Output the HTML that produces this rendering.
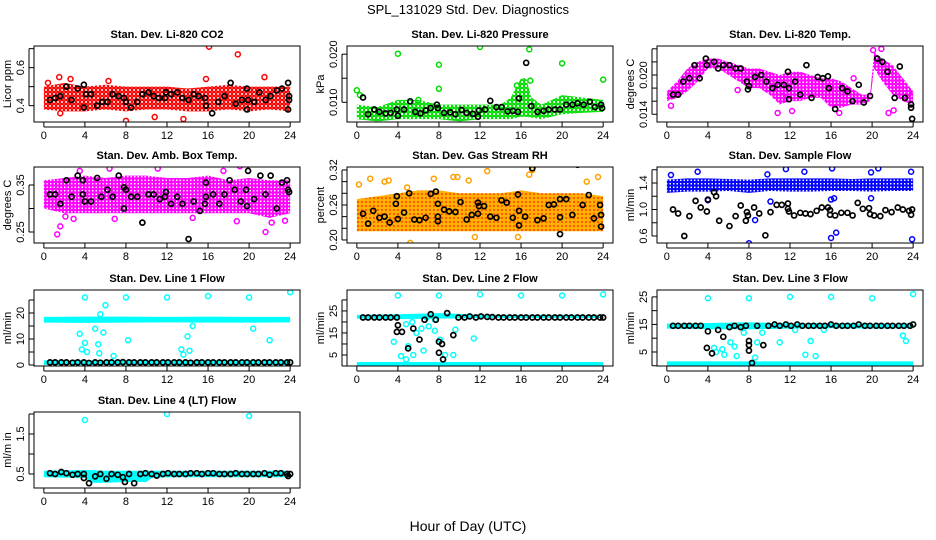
<!DOCTYPE html>
<html><head><meta charset="utf-8"><style>
body{margin:0;background:#fff}
svg{display:block;font-family:"Liberation Sans",Arial,sans-serif}
</style></head><body>
<svg id="chart" width="936" height="540" viewBox="0 0 936 540">
<defs>
<pattern id="p-red" width="4" height="4" patternUnits="userSpaceOnUse"><circle cx="2" cy="2" r="1.7" fill="none" stroke="#ff0000" stroke-width="1.4"/></pattern>
<pattern id="p-green" width="4" height="4" patternUnits="userSpaceOnUse"><circle cx="2" cy="2" r="1.8" fill="none" stroke="#00dd00" stroke-width="1.4"/></pattern>
<pattern id="p-mag" width="3.5" height="3.5" patternUnits="userSpaceOnUse"><circle cx="1.75" cy="1.75" r="1.6" fill="none" stroke="#ff00ff" stroke-width="1.5"/></pattern>
<pattern id="p-orange" width="4" height="4" patternUnits="userSpaceOnUse"><rect width="4" height="4" fill="#ffb000"/><circle cx="2" cy="2" r="0.9" fill="#ff2000"/></pattern>
<pattern id="p-blue" width="3.5" height="3.5" patternUnits="userSpaceOnUse"><circle cx="1.75" cy="1.75" r="1.6" fill="none" stroke="#0000ff" stroke-width="1.5"/></pattern>
<pattern id="p-cyan" width="4" height="4" patternUnits="userSpaceOnUse"><rect width="4" height="4" fill="#00ffff"/></pattern>
</defs>
<text x="468" y="14" text-anchor="middle" font-size="13">SPL_131029  Std. Dev. Diagnostics</text>
<text x="468" y="531" text-anchor="middle" font-size="14">Hour of Day (UTC)</text>
</svg>
<script>
// ---------- Panel data ----------
const xTicks = [0,4,8,12,16,20,24];

// P1 CO2
const co2BandHours = [0,2,4,6,8,10,12,14,16,18,20,22,24];
const co2BandLo = [0.38,0.37,0.37,0.38,0.37,0.38,0.38,0.37,0.37,0.38,0.37,0.38,0.37];
const co2BandHi = [0.50,0.52,0.50,0.51,0.50,0.50,0.50,0.49,0.50,0.51,0.50,0.50,0.50];
const co2Outliers = [[16.1,0.71],[18.9,0.67],[8,0.32],[1.5,0.55],[15.8,0.54],[21.5,0.55],[13.6,0.33],[10.8,0.34],[0.4,0.52],[2.6,0.54],[6.3,0.53],[1.6,0.36]];
const co2Black = [[0.6,0.43],[1.1,0.44],[1.6,0.45],[2.2,0.5],[2.7,0.43],[3.3,0.49],[3.9,0.51],[3.9,0.39],[4.1,0.46],[4.6,0.46],[5.2,0.4],[5.7,0.42],[6.2,0.42],[6.7,0.46],[7.3,0.45],[7.8,0.44],[8,0.42],[8.5,0.39],[9.1,0.42],[9.6,0.46],[10.2,0.47],[10.7,0.45],[11.2,0.44],[11.8,0.44],[11.9,0.47],[12.4,0.46],[13,0.47],[13.5,0.44],[14.1,0.43],[14.6,0.46],[15.1,0.45],[15.7,0.44],[15.8,0.4],[16.4,0.36],[17,0.42],[17.6,0.45],[18.2,0.52],[18.7,0.41],[19.3,0.43],[19.8,0.38],[19.8,0.49],[19.9,0.43],[20.5,0.42],[21,0.47],[21.6,0.43],[22.1,0.45],[22.7,0.48],[23.2,0.49],[23.8,0.38],[23.8,0.52],[23.9,0.43],[23.9,0.45]];

// P2 Pressure
const prBandHours = [0,2,4,6,8,10,12,14,15,16,16.5,17,18,20,22,24];
const prBandLo = [0.0065,0.006,0.0065,0.0065,0.0065,0.006,0.0065,0.0065,0.0065,0.007,0.007,0.0068,0.0065,0.0075,0.0078,0.008];
const prBandHi = [0.0095,0.009,0.0105,0.0105,0.0095,0.0095,0.0095,0.0095,0.011,0.015,0.015,0.011,0.0095,0.0115,0.011,0.0105];
const prOutliers = [[0,0.0125],[0.3,0.0115],[4,0.0201],[8,0.0178],[8,0.0128],[12,0.0215],[16.8,0.021],[20,0.0181],[24,0.0147],[16.9,0.0145],[6,0.0105],[15.6,0.0135]];
const prBlack = [[0.6,0.011],[1.1,0.0075],[1.7,0.0085],[2.2,0.008],[2.8,0.0077],[3.3,0.0078],[3.9,0.0085],[4,0.0072],[4.6,0.0085],[5.2,0.0102],[5.7,0.008],[6.2,0.0077],[6.7,0.0083],[7.2,0.0088],[7.8,0.0095],[7.9,0.0088],[8.5,0.0078],[9.1,0.0079],[9.6,0.0075],[10.2,0.0084],[10.7,0.0078],[11.3,0.0076],[11.8,0.007],[11.9,0.0083],[12.5,0.0085],[13,0.0103],[13.6,0.009],[14.1,0.009],[14.7,0.0081],[15.2,0.0082],[15.7,0.008],[15.8,0.0108],[16.5,0.0182],[17,0.0092],[17.6,0.008],[18.2,0.0082],[18.7,0.0085],[19.3,0.0085],[19.8,0.0085],[20.4,0.0095],[21,0.0095],[21.5,0.0098],[22.1,0.0095],[22.7,0.0101],[23.2,0.009],[23.8,0.0095],[23.9,0.0088]];

// P3 Li-820 Temp
const ltBandHours = [0,1,2,3,4,5,6,7,8,9,10,11,12,13,14,15,16,17,18,19,19.8,20.2,21,22,23,24];
const ltBandLo = [0.016,0.0165,0.0175,0.019,0.021,0.021,0.02,0.019,0.018,0.018,0.017,0.0155,0.016,0.016,0.0165,0.0165,0.015,0.015,0.0155,0.0155,0.016,0.021,0.019,0.017,0.016,0.0155];
const ltBandHi = [0.0175,0.019,0.021,0.022,0.0225,0.0225,0.022,0.0215,0.021,0.021,0.0205,0.02,0.0205,0.0205,0.02,0.0195,0.0195,0.019,0.018,0.017,0.017,0.0235,0.0225,0.0215,0.0195,0.0175];
const ltOutliers = [[0.4,0.0153],[10.8,0.0142],[12.2,0.0145],[16.8,0.0142],[20.1,0.0238],[20.9,0.024],[21.6,0.0142],[22.1,0.0146],[23.6,0.0172],[11.3,0.0168],[18.2,0.0195],[6.9,0.0177]];
const ltBlack = [[0.6,0.017],[1.1,0.017],[1.6,0.019],[2.2,0.0195],[2.7,0.0215],[3.2,0.0195],[3.8,0.0225],[3.9,0.0215],[4.6,0.022],[5,0.021],[5.5,0.0215],[6.1,0.0215],[6.7,0.021],[7.2,0.021],[7.8,0.019],[7.9,0.0178],[8,0.0183],[8.6,0.0197],[9.2,0.02],[9.7,0.019],[10.3,0.018],[10.8,0.0185],[11.4,0.0185],[11.8,0.0205],[11.9,0.0163],[11.9,0.018],[12.5,0.019],[13,0.017],[13.6,0.0215],[14.1,0.0165],[14.7,0.0197],[15.2,0.0195],[15.7,0.0198],[15.8,0.018],[16.4,0.0148],[17.1,0.018],[17.6,0.0175],[18.1,0.016],[18.7,0.0185],[19.2,0.0158],[19.8,0.0168],[20.5,0.0225],[21,0.022],[21.5,0.0205],[22.2,0.0165],[22.7,0.0213],[23.2,0.0165],[23.8,0.0155],[23.9,0.0133],[23.8,0.015]];

// P4 Amb Box Temp
const abBandHours = [0,2,4,6,8,10,12,14,16,18,20,22,24];
const abBandLo = [0.30,0.29,0.29,0.29,0.29,0.29,0.29,0.29,0.29,0.29,0.29,0.28,0.29];
const abBandHi = [0.36,0.365,0.37,0.365,0.37,0.37,0.365,0.365,0.37,0.36,0.365,0.36,0.36];
const abOutliers = [[1.3,0.245],[1.6,0.262],[2.1,0.283],[21.6,0.25],[22.2,0.27],[19.1,0.39],[11.1,0.385],[17.5,0.38],[6.4,0.385],[3.5,0.38],[2.9,0.278],[6.9,0.278],[14.5,0.28],[18.8,0.273],[23.5,0.274]];
const abBlack = [[0.6,0.33],[1.1,0.33],[1.6,0.31],[2.2,0.36],[2.7,0.325],[3.3,0.37],[3.8,0.36],[3.8,0.33],[4,0.315],[4.6,0.315],[5.2,0.365],[5.6,0.325],[6.2,0.34],[6.7,0.325],[7.3,0.37],[7.8,0.345],[7.8,0.3],[8,0.34],[8.5,0.325],[9.1,0.325],[9.6,0.27],[10.2,0.33],[10.7,0.33],[11.3,0.32],[11.8,0.325],[11.9,0.335],[12.4,0.31],[13,0.325],[13.5,0.31],[14.1,0.235],[14.6,0.315],[15.2,0.295],[15.7,0.31],[15.8,0.325],[15.8,0.355],[16.5,0.33],[17.1,0.31],[17.6,0.33],[18.1,0.36],[18.6,0.34],[19.2,0.315],[19.7,0.34],[19.8,0.305],[19.9,0.38],[20.5,0.32],[21.1,0.37],[21.6,0.33],[22.1,0.37],[22.7,0.3],[23.2,0.355],[23.7,0.36],[23.8,0.34],[23.9,0.335]];

// P5 Gas Stream RH
const rhBandHours = [0,2,4,6,8,10,12,14,16,18,20,22,24];
const rhBandLo = [0.215,0.215,0.215,0.215,0.215,0.215,0.215,0.215,0.215,0.215,0.215,0.215,0.215];
const rhBandHi = [0.27,0.275,0.28,0.285,0.285,0.28,0.28,0.28,0.285,0.28,0.28,0.28,0.275];
const rhOutliers = [[0.2,0.295],[1.3,0.305],[5.2,0.195],[7.5,0.305],[9.4,0.308],[9.8,0.308],[12.7,0.318],[16.8,0.312],[17.1,0.32],[23.5,0.308],[11.5,0.205],[15.7,0.205],[4.9,0.29],[2.7,0.3],[3.1,0.302],[10.9,0.302],[22.4,0.3]];
const rhBlack = [[0.6,0.245],[1.1,0.228],[1.6,0.25],[2.2,0.238],[2.7,0.24],[3.2,0.23],[3.8,0.262],[3.9,0.275],[4,0.236],[4.6,0.247],[5.1,0.28],[5.6,0.235],[6.1,0.234],[6.7,0.238],[7.2,0.279],[7.7,0.283],[7.9,0.262],[7.9,0.24],[7.9,0.232],[8.5,0.252],[9,0.249],[9.6,0.248],[10.1,0.265],[10.7,0.235],[11.2,0.243],[11.8,0.264],[11.8,0.245],[11.9,0.258],[12.4,0.258],[13,0.24],[13.6,0.238],[14.1,0.268],[14.6,0.264],[15.2,0.238],[15.7,0.278],[15.8,0.25],[15.8,0.225],[16.4,0.24],[17.1,0.323],[17.6,0.234],[18.2,0.237],[18.7,0.26],[19.2,0.261],[19.8,0.27],[19.8,0.239],[19.8,0.21],[20.4,0.27],[21,0.243],[21.5,0.329],[22,0.26],[22.6,0.277],[23.1,0.237],[23.7,0.26],[23.8,0.243],[23.8,0.223]];

// P6 Sample Flow
const sfBandHours = [0,2,4,6,8,10,12,14,16,18,20,22,24];
const sfBandLo = [1.25,1.27,1.27,1.28,1.25,1.28,1.27,1.27,1.28,1.28,1.27,1.28,1.28];
const sfBandHi = [1.45,1.47,1.47,1.46,1.45,1.47,1.47,1.47,1.47,1.46,1.47,1.47,1.47];
const sfOutliers = [[0.4,1.52],[3,1.57],[8,0.49],[8.6,0.84],[11.6,1.61],[13.4,1.57],[16,0.57],[16.1,1.62],[16.3,1.17],[16.5,0.65],[19.9,1.56],[20.6,1.62],[23.9,0.55],[23.8,1.57],[4,1.14],[9.8,1.53],[19.9,1.17],[16,1.15],[10.1,1.12]];
const sfBlack = [[0.6,1.0],[1.1,0.94],[1.7,0.6],[2.2,0.9],[2.8,1.13],[3.3,1.03],[3.9,0.97],[4,1.15],[4.6,1.26],[4.8,1.2],[5.1,0.83],[6.1,0.75],[6.7,0.9],[7.2,1.06],[7.7,0.83],[7.8,0.96],[7.9,0.91],[8.5,1.03],[9,0.94],[9.6,0.61],[10.1,0.96],[10.7,1.07],[11.2,1.07],[11.8,1.09],[11.8,1.01],[11.9,0.97],[12.4,0.91],[13,0.95],[13.5,0.94],[14,0.93],[14.6,0.98],[15.1,1.03],[15.7,1.03],[15.9,0.92],[15.9,0.99],[16.4,0.91],[17,0.95],[17.6,0.95],[18.1,0.91],[18.6,1.1],[19.1,1.01],[19.7,1.02],[19.8,0.93],[20.2,0.91],[20.8,0.9],[21.3,0.99],[21.9,0.96],[22.5,1.03],[23,1.0],[23.6,0.98],[23.8,0.92],[23.9,1.0]];

// shared hours for the regular black sampling in flow panels
const flowBlackHours = [0.6,1.1,1.7,2.2,2.8,3.3,3.9,4.4,5,5.5,6.1,6.6,7.2,7.7,8.3,8.8,9.4,9.9,10.5,11,11.6,12.1,12.7,13.2,13.8,14.3,14.9,15.4,16,16.5,17.1,17.6,18.2,18.7,19.3,19.8,20.4,20.9,21.5,22,22.6,23.1,23.7,24];

// P7 Line 1 Flow
const l1BandHours = [0,4,8,12,16,20,24];
const l1UpperLo = [16.3,16.2,16.3,16.4,16.3,16.3,16.4];
const l1UpperHi = [18.5,18.6,18.6,18.5,18.6,18.5,18.5];
const l1LowerLo = [0,0,0,0,0,0,0];
const l1LowerHi = [1.8,1.8,1.8,1.8,1.8,1.8,1.8];
const l1Outliers = [[4,26],[8,26],[12,26],[16,26.5],[20,26],[24,28],[3.5,12],[3.7,6],[4,8.5],[4.2,5],[5,14],[5.3,8],[5.4,4.5],[5.5,19.5],[5.8,12.5],[6,23],[6.8,3.5],[8.2,9.5],[13.4,6],[13.6,4],[14,11],[14.2,5.5],[14.5,15],[20.4,14],[22,9.5]];
const l1BlackVals = [1,1,1,1,0.9,1,1,0.8,1,0.9,1,1,1,1.1,1,1,1,1,1,1,1,1,1,1,1,0.9,1,1,1,1,1,1,1,1,1,1,1,1,1,1,1,1,1,1];

// P8 Line 2 Flow
const l2BandHours = [0,4,8,12,16,20,24];
const l2UpperLo = [21.5,21.3,21.5,21.8,21.8,21.8,21.8];
const l2UpperHi = [23.2,23.5,24,23.3,23.2,23.2,23.2];
const l2LowerLo = [0,0,0,0,0,0,0];
const l2LowerHi = [1.8,1.8,1.8,1.8,1.8,1.8,1.8];
const l2Outliers = [[4,32],[8,32],[12,32.5],[16,32],[20,32],[24,32.5],[3.6,11],[4.3,4.5],[4.8,3],[5,9],[5.5,5],[5.8,15],[6.3,17],[6.5,7],[7,18],[7.6,16],[8.1,12],[8.6,5],[9.6,16.5],[9.4,5],[11.4,12.5],[7.6,21],[6.8,22],[4.8,19],[5.4,20]];
const l2BlackVals = [22,22,22,22,22,22,22,15.5,8,17,12,21,23.5,21,10,24,14,22,22,22.5,22,22.5,22.3,22.2,22,22,22,22,22,22,22,22,22,22,22,22,22,22,22,22,22,22,22,22];
const l2BlackExtra = [[4,18.5],[8,11],[8,6],[8.4,3],[3.9,15.5]];

// P9 Line 3 Flow
const l3BandHours = [0,4,8,12,16,20,24];
const l3UpperLo = [13.5,13.3,13.2,13.5,13.6,13.5,13.6];
const l3UpperHi = [15.3,15.5,15.8,15.4,15.5,15.3,15.4];
const l3LowerLo = [0,0,0,0,0,0,0];
const l3LowerHi = [1.6,1.6,1.6,1.6,1.6,1.6,1.6];
const l3Outliers = [[4,24.5],[8,24.5],[12,25],[16,25],[20,24.5],[24,26],[4.6,6.5],[4.8,5],[5.4,6],[5.6,4],[6.2,8.5],[6.8,3.5],[7.5,12],[8.6,3],[8.8,8.5],[11,8.5],[13.5,4],[14,9],[14.5,3.5],[23,11],[23.3,9],[6.6,7],[9.3,12],[12.5,13],[15.3,13]];
const l3BlackVals = [14.5,14.5,14.5,14.5,14.5,14.5,6.5,4.5,13,10.5,14,14.5,14,14.5,1,14.5,7.5,14.5,15,14.5,15,14.5,15,14.5,14.5,14.5,14.5,14.5,15,14.5,14.5,14.5,14.5,15,14.5,14.5,14.5,14.5,14.5,14.5,14.5,14.5,14.5,15];
const l3BlackExtra = [[4,12.5],[8,9],[8,7.5],[8,5.5]];

// P10 Line 4 (LT) Flow
const l4BandHours = [0,4,4.5,6,8,10,10.5,12,24];
const l4BandLo = [0.42,0.4,0.28,0.28,0.3,0.3,0.4,0.42,0.42];
const l4BandHi = [0.58,0.6,0.6,0.58,0.58,0.58,0.58,0.58,0.58];
const l4Outliers = [[4,1.85],[12,2.0],[20,1.95]];
const l4BlackVals = [0.52,0.5,0.55,0.52,0.48,0.5,0.5,0.27,0.44,0.5,0.38,0.5,0.48,0.42,0.5,0.27,0.5,0.52,0.5,0.46,0.5,0.52,0.5,0.5,0.5,0.52,0.52,0.5,0.52,0.52,0.5,0.5,0.5,0.52,0.5,0.5,0.5,0.5,0.52,0.48,0.52,0.52,0.5,0.5];
const l4BlackExtra = [[3.9,0.4],[7.9,0.3],[23.8,0.45]];

// ---------- Rendering ----------
const svg = document.getElementById('chart');
const NS = 'http://www.w3.org/2000/svg';
const colLeft = [34,347,657], rowTop = [46,167,290,412], BW = 266, BH = 76;
function mk(tag, attrs, parent){ const e = document.createElementNS(NS, tag); for (const k in attrs) e.setAttribute(k, attrs[k]); (parent||svg).appendChild(e); return e; }

function panel(id, col, row, title, ytitle, ylo, yhi, ticks, labels){
  const L = colLeft[col], T = rowTop[row];
  const g = mk('g', {});
  
  
  const xs = h => L + 9.85 + h * (BW / 25.92);
  const ys = v => T + BH - (v - ylo) / (yhi - ylo) * BH;
  const clipId = 'clip-' + id;
  const cp = mk('clipPath', {id: clipId}, g);
  mk('rect', {x: L, y: T, width: BW, height: BH}, cp);
  const plot = mk('g', {'clip-path': 'url(#' + clipId + ')'}, g);
  
  
  const t = mk('text', {x: L + BW/2, y: T - 8, 'text-anchor': 'middle', 'font-size': 11, 'font-weight': 'bold'}, g);
  t.textContent = title;
  
  
  const box = mk('rect', {x: L, y: T, width: BW, height: BH, fill: 'none', stroke: '#000', 'stroke-width': 1}, g);
  
  
  xTicks.forEach(h => {
    mk('line', {x1: xs(h), x2: xs(h), y1: T + BH, y2: T + BH + 5, stroke: '#000'}, g);
    const tx = mk('text', {x: xs(h), y: T + BH + 17, 'text-anchor': 'middle', 'font-size': 11}, g);
    tx.textContent = h;
    
    
  });
  mk('line', {x1: xs(0), x2: xs(24), y1: T + BH + 5, y2: T + BH + 5, stroke: '#000'}, g);
  ticks.forEach(v => { mk('line', {x1: L - 5, x2: L, y1: ys(v), y2: ys(v), stroke: '#000'}, g); });
  mk('line', {x1: L - 5, x2: L - 5, y1: ys(ticks[0]), y2: ys(ticks[ticks.length-1]), stroke: '#000'}, g);
  labels.forEach(s => {
    const v = parseFloat(s);
    const ty = mk('text', {x: 0, y: 0, 'text-anchor': 'middle', 'font-size': 11, transform: 'translate(' + (L - 10) + ',' + ys(v) + ') rotate(-90)'}, g);
    ty.textContent = s;
    
    
  });
  const yt = mk('text', {x: 0, y: 0, 'text-anchor': 'middle', 'font-size': 11, transform: 'translate(' + (L - 23) + ',' + (T + BH/2) + ') rotate(-90)'}, g);
  yt.textContent = ytitle;
  
  
  return {plot, xs, ys, id};
}
function band(p, hours, lo, hi, fill){
  let pts = hours.map((h,i) => p.xs(h) + ',' + p.ys(hi[i]));
  pts = pts.concat(hours.slice().reverse().map((h,j) => { const i = hours.length - 1 - j; return p.xs(h) + ',' + p.ys(lo[i]); }));
  const e = mk('polygon', {points: pts.join(' '), fill: fill, stroke: 'none'}, p.plot);
  
  
}
function pts(p, arr, color, w, name){
  arr.forEach(d => {
    const c = mk('circle', {cx: p.xs(d[0]), cy: p.ys(d[1]), r: 2.5, fill: 'none', stroke: color, 'stroke-width': w}, p.plot);
    
    
  });
}
const zipH = vals => vals.map((v,i) => [flowBlackHours[i], v]);

let p;
p = panel('co2', 0, 0, 'Stan. Dev. Li-820 CO2', 'Licor ppm', 0.314, 0.714, [0.4,0.5,0.6,0.7], ['0.4','0.6']);
band(p, co2BandHours, co2BandLo, co2BandHi, 'url(#p-red)'); pts(p, co2Outliers, '#ff0000', 1.5, 'point'); pts(p, co2Black, '#000', 1.7, 'mean-point');

p = panel('pressure', 1, 0, 'Stan. Dev. Li-820 Pressure', 'kPa', 0.0059, 0.0217, [0.010,0.015,0.020], ['0.010','0.020']);
band(p, prBandHours, prBandLo, prBandHi, 'url(#p-green)'); pts(p, prOutliers, '#00dd00', 1.5, 'point'); pts(p, prBlack, '#000', 1.7, 'mean-point');

p = panel('li820-temp', 2, 0, 'Stan. Dev. Li-820 Temp.', 'degrees C', 0.01282, 0.02443, [0.014,0.016,0.018,0.020,0.022,0.024], ['0.014','0.020']);
band(p, ltBandHours, ltBandLo, ltBandHi, 'url(#p-mag)'); pts(p, ltOutliers, '#ff00ff', 1.5, 'point'); pts(p, ltBlack, '#000', 1.7, 'mean-point');

p = panel('amb-temp', 0, 1, 'Stan. Dev. Amb. Box Temp.', 'degrees C', 0.2266, 0.3883, [0.25,0.30,0.35], ['0.25','0.35']);
band(p, abBandHours, abBandLo, abBandHi, 'url(#p-mag)'); pts(p, abOutliers, '#ff00ff', 1.5, 'point'); pts(p, abBlack, '#000', 1.7, 'mean-point');

p = panel('rh', 1, 1, 'Stan. Dev. Gas Stream RH', 'percent', 0.1948, 0.3251, [0.20,0.22,0.24,0.26,0.28,0.30,0.32], ['0.20','0.26','0.32']);
band(p, rhBandHours, rhBandLo, rhBandHi, 'url(#p-orange)'); pts(p, rhOutliers, '#ffa000', 1.5, 'point'); pts(p, rhBlack, '#000', 1.7, 'mean-point');

p = panel('sample-flow', 2, 1, 'Stan. Dev. Sample Flow', 'ml/min', 0.4943, 1.6415, [0.6,0.8,1.0,1.2,1.4,1.6], ['0.6','1.0','1.4']);
band(p, sfBandHours, sfBandLo, sfBandHi, 'url(#p-blue)'); pts(p, sfOutliers, '#0000ff', 1.5, 'point'); pts(p, sfBlack, '#000', 1.7, 'mean-point');

p = panel('line1', 0, 2, 'Stan. Dev. Line 1 Flow', 'ml/min', -0.38, 28.85, [0,5,10,15,20,25], ['0','10','20']);
band(p, l1BandHours, l1UpperLo, l1UpperHi, 'url(#p-cyan)'); band(p, l1BandHours, l1LowerLo, l1LowerHi, 'url(#p-cyan)');
pts(p, l1Outliers, '#00ffff', 1.5, 'point'); pts(p, zipH(l1BlackVals), '#000', 1.7, 'mean-point');

p = panel('line2', 1, 2, 'Stan. Dev. Line 2 Flow', 'ml/min', 0, 34.5, [0,5,10,15,20,25,30], ['5','15','25']);
band(p, l2BandHours, l2UpperLo, l2UpperHi, 'url(#p-cyan)'); band(p, l2BandHours, l2LowerLo, l2LowerHi, 'url(#p-cyan)');
pts(p, l2Outliers, '#00ffff', 1.5, 'point'); pts(p, zipH(l2BlackVals), '#000', 1.7, 'mean-point'); pts(p, l2BlackExtra, '#000', 1.7, 'mean-point');

p = panel('line3', 2, 2, 'Stan. Dev. Line 3 Flow', 'ml/min', -0.09, 27.5, [0,5,10,15,20,25], ['5','15','25']);
band(p, l3BandHours, l3UpperLo, l3UpperHi, 'url(#p-cyan)'); band(p, l3BandHours, l3LowerLo, l3LowerHi, 'url(#p-cyan)');
pts(p, l3Outliers, '#00ffff', 1.5, 'point'); pts(p, zipH(l3BlackVals), '#000', 1.7, 'mean-point'); pts(p, l3BlackExtra, '#000', 1.7, 'mean-point');

p = panel('line4', 0, 3, 'Stan. Dev. Line 4 (LT) Flow', 'ml/m in', 0.15, 2.05, [0.5,1.0,1.5,2.0], ['0.5','1.5']);
band(p, l4BandHours, l4BandLo, l4BandHi, 'url(#p-cyan)');
pts(p, l4Outliers, '#00ffff', 1.5, 'point'); pts(p, zipH(l4BlackVals), '#000', 1.7, 'mean-point'); pts(p, l4BlackExtra, '#000', 1.7, 'mean-point');
</script>
</body></html>
